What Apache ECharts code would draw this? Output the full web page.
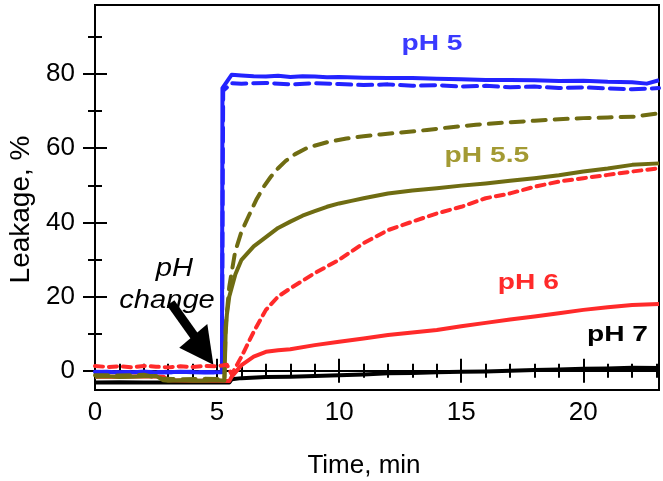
<!DOCTYPE html>
<html><head><meta charset="utf-8">
<script src="https://cdn.jsdelivr.net/npm/echarts@6/dist/echarts.min.js"></script>
<style>html,body{margin:0;padding:0;background:#fff}#c{width:663px;height:481px}</style>
</head><body><div id="c"></div>
<script>
// ---- axis ticks ----
const xMajorTicks = [0, 5, 10, 15, 20];
const xMinorTicks = [1, 2, 3, 4, 6, 7, 8, 9, 11, 12, 13, 14, 16, 17, 18, 19, 21, 22, 23];
const yMajorTicks = [0, 20, 40, 60, 80];
const yMinorTicks = [10, 30, 50, 70, 90];

// ---- series data (time in min, leakage in %) ----
const tBlueSolid = [0, 0.5, 1, 1.5, 2, 2.5, 3, 3.5, 4, 4.5, 5, 5.2, 5.22, 5.6, 6, 6.5, 7, 7.5, 8, 8.5, 9, 9.5, 10, 11, 12, 13, 14, 15, 16, 17, 18, 19, 20, 21, 22, 22.6, 23.1];
const vBlueSolid = [-0.4, -0.3, -0.5, -0.4, -0.3, -0.5, -0.4, -0.3, -0.4, -0.5, -0.4, -0.4, 76.2, 79.8, 79.6, 79.4, 79.3, 79.5, 79.2, 79.4, 79.3, 79.1, 79.2, 79.0, 78.9, 78.9, 78.7, 78.6, 78.4, 78.4, 78.3, 78.1, 78.2, 77.9, 77.8, 77.4, 78.3];
const tBlueDash = [0, 1, 2, 3, 4, 5, 5.2, 5.25, 5.6, 6, 7, 8, 9, 10, 11, 12, 13, 14, 15, 16, 17, 18, 19, 20, 21, 22, 23.1];
const vBlueDash = [-0.3, -0.4, -0.3, -0.4, -0.3, -0.4, -0.3, 75.5, 77.5, 77.4, 77.6, 77.2, 77.5, 77.3, 77.0, 77.2, 76.8, 77.0, 76.6, 76.8, 76.4, 76.6, 76.2, 76.4, 76.1, 75.9, 76.2];
const tOliveSolid = [0, 0.5, 1, 1.5, 2, 2.5, 2.8, 3, 3.5, 4, 4.5, 5, 5.3, 5.35, 5.4, 5.5, 5.75, 6, 6.5, 7, 7.5, 8, 8.5, 9, 9.5, 10, 10.5, 11, 12, 13, 14, 15, 16, 17, 18, 19, 20, 21, 22, 23.1];
const vOliveSolid = [-1.6, -1.5, -1.7, -1.6, -1.5, -1.4, -2.6, -2.7, -2.6, -2.7, -2.7, -2.6, -2.7, 10, 15, 20, 26, 29.9, 33.5, 36, 38.5, 40.2, 41.8, 43, 44.2, 45.1, 45.8, 46.5, 47.8, 48.6, 49.2, 49.9, 50.5, 51.2, 51.9, 52.7, 53.7, 54.5, 55.5, 55.9];
const tOliveDash = [0, 1, 2, 2.8, 3.5, 4.5, 5.3, 5.35, 5.5, 5.74, 6, 6.28, 6.6, 6.9, 7.2, 7.5, 7.8, 8.2, 8.7, 9.5, 10.3, 11, 11.7, 12.5, 13.6, 14.5, 15.6, 16.8, 18, 19, 20, 21, 22.1, 23.1];
const vOliveDash = [-1.2, -1.3, -1.1, -2.2, -2.3, -2.2, -2.3, 12, 22.7, 32.1, 37.5, 41.5, 46, 49.5, 52.3, 54.6, 56.5, 58.4, 60.1, 61.6, 62.6, 63.2, 63.7, 64.2, 64.9, 65.6, 66.3, 66.9, 67.4, 67.8, 68.1, 68.3, 68.5, 69.4];
const tRedSolid = [0, 1, 2, 2.8, 3, 4, 5, 5.5, 5.6, 6, 6.5, 7, 7.5, 8, 9, 10, 11, 12, 13, 14, 15, 16, 17, 18, 19, 20, 21, 22, 23.1];
const vRedSolid = [-1.6, -1.6, -1.5, -1.6, -2.6, -2.7, -2.7, -2.8, -1.6, 1.5, 3.8, 5.1, 5.5, 5.8, 6.9, 7.8, 8.7, 9.6, 10.3, 11, 12, 12.9, 13.8, 14.6, 15.5, 16.4, 17.1, 17.7, 18];
const tRedDash = [0, 0.5, 1, 1.5, 2, 2.5, 3, 3.5, 4, 4.5, 5, 5.4, 5.6, 6, 6.5, 7, 7.5, 8, 9, 10, 11, 12, 13, 14, 15, 16, 17, 18, 19, 20, 21, 22, 23.1];
const vRedDash = [1.3, 1.0, 1.2, 0.9, 1.3, 1.1, 0.9, 1.2, 1.0, 1.3, 1.2, 1.6, -1, 3.8, 10.5, 16.4, 20, 22.2, 26.3, 29.9, 34.4, 37.9, 40.2, 42.4, 44.2, 46.5, 47.8, 49.6, 51, 51.9, 52.8, 53.7, 54.6];
const tBlack = [0, 1, 2, 3, 4, 5, 5.5, 5.6, 6, 7, 8, 9, 10, 11, 12, 13, 14, 15, 16, 17, 18, 19, 20, 21, 22, 23.1];
const vBlack = [-3.2, -3.1, -3.2, -3.2, -3.1, -3.2, -3.2, -2.3, -2, -1.7, -1.6, -1.4, -1.2, -1, -0.7, -0.6, -0.4, -0.3, -0.2, 0, 0.2, 0.3, 0.5, 0.6, 0.8, 0.7];

// ---- annotations (data coordinates) ----
const phLabels = ['pH 5', 'pH 5.5', 'pH 6', 'pH 7'];
const phLabelT = [13.8, 16.05, 17.75, 21.4];
const phLabelV = [88.1, 57.9, 23.7, 9.6];
const noteLines = ['pH', 'change'];
const noteT = [3.25, 2.95];
const noteV = [27.4, 18.8];
const arrowShaft = [[3.1, 18.3], [4.15, 8.6]];
const arrowHead = [[3.45, 6.2], [4.6, 12.6], [4.85, 1.6]];

const C_BLUE = '#2323ff', C_OLIVE = '#6f6c12', C_OLIVE_TXT = '#a39a33', C_RED = '#ff2a2a', C_BLACK = '#000';
const phColors = ['#3a3aff', C_OLIVE_TXT, C_RED, C_BLACK];

const XMIN = 0, XMAX = 23.1, YMIN = -5.2, YMAX = 98.6;
const FONT = 'Liberation Sans, Arial, sans-serif';

function pairs(t, v) { return t.map((x, i) => [x, v[i]]); }

function xAx(pos, ticks, len, labels) {
  return {
    type: 'value', position: pos, min: XMIN, max: XMAX, gridIndex: 0,
    axisLine: { show: !!labels, lineStyle: { color: '#000', width: 2 } },
    axisTick: { show: true, inside: true, length: len, customValues: ticks, lineStyle: { color: '#000', width: 2 } },
    axisLabel: labels ? { show: true, customValues: ticks, fontSize: 26, color: '#000', fontFamily: FONT, margin: 10 } : { show: false },
    splitLine: { show: false }
  };
}
function yAx(pos, ticks, len, labels) {
  return {
    type: 'value', position: pos, min: YMIN, max: YMAX, gridIndex: 0,
    axisLine: { show: !!labels, lineStyle: { color: '#000', width: 2 } },
    axisTick: { show: true, inside: true, length: len, customValues: ticks, lineStyle: { color: '#000', width: 2 } },
    axisLabel: labels ? { show: true, customValues: ticks, fontSize: 26, color: '#000', fontFamily: FONT, margin: 20 } : { show: false },
    splitLine: { show: false }
  };
}

const xAxes = [
  Object.assign(xAx('bottom', xMajorTicks, 12, true), { name: 'Time, min', nameLocation: 'middle', nameGap: 63, nameTextStyle: { fontSize: 26, color: '#000', fontFamily: FONT, padding: [0, 26, 0, 0] } }),
  xAx('bottom', xMinorTicks, 7, false),
  xAx('top', xMajorTicks, 12, false),
  xAx('top', xMinorTicks, 7, false)
];
const yAxes = [
  Object.assign(yAx('left', yMajorTicks, 12, true), { name: 'Leakage, %', nameLocation: 'middle', nameGap: 60, nameRotate: 90, nameTextStyle: { fontSize: 28, color: '#000', fontFamily: FONT, padding: [0, 24, 0, 0] } }),
  yAx('left', yMinorTicks, 7, false),
  yAx('right', yMajorTicks, 12, false),
  yAx('right', yMinorTicks, 7, false)
];

function line(name, t, v, color, dash) {
  return {
    name, type: 'line', xAxisIndex: 0, yAxisIndex: 0, data: pairs(t, v),
    showSymbol: false, symbol: 'none', animation: false, smooth: false,
    lineStyle: { color, width: 4, type: dash || 'solid', cap: dash ? 'round' : 'butt', join: 'round' }
  };
}

const chart = echarts.init(document.getElementById('c'), null, { renderer: 'canvas' });
chart.setOption({
  animation: false,
  backgroundColor: '#fff',
  grid: { left: 95, right: 4, top: 5, bottom: 91, show: true, borderColor: '#000', borderWidth: 2, containLabel: false, outerBoundsMode: 'none' },
  xAxis: xAxes,
  yAxis: yAxes,
  series: [
    line('pH 7', tBlack, vBlack, C_BLACK),
    line('pH 6 solid', tRedSolid, vRedSolid, C_RED),
    line('pH 5 solid', tBlueSolid, vBlueSolid, C_BLUE),
    line('pH 5 dash', tBlueDash, vBlueDash, C_BLUE, [14, 7]),
    line('pH 5.5 dash', tOliveDash, vOliveDash, C_OLIVE, [13, 9]),
    line('pH 5.5 solid', tOliveSolid, vOliveSolid, C_OLIVE),
    line('pH 6 dash', tRedDash, vRedDash, C_RED, [8, 6])
  ]
});

const px = p => chart.convertToPixel({ gridIndex: 0 }, p);
const graphics = [];
phLabels.forEach((s, i) => {
  const p = px([phLabelT[i], phLabelV[i]]);
  graphics.push({ type: 'text', x: p[0], y: p[1], scaleX: 1.28, style: { text: s, fill: phColors[i], font: 'bold 22px ' + FONT, align: 'center', verticalAlign: 'middle' } });
});
noteLines.forEach((s, i) => {
  const p = px([noteT[i], noteV[i]]);
  graphics.push({ type: 'text', x: p[0], y: p[1], scaleX: 1.12, style: { text: s, fill: '#000', font: 'italic 26px ' + FONT, align: 'center', verticalAlign: 'middle' } });
});
graphics.push({ type: 'polyline', shape: { points: arrowShaft.map(px) }, style: { stroke: '#000', lineWidth: 9 } });
graphics.push({ type: 'polygon', shape: { points: arrowHead.map(px) }, style: { fill: '#000' } });
chart.setOption({ graphic: graphics });
</script></body></html>
